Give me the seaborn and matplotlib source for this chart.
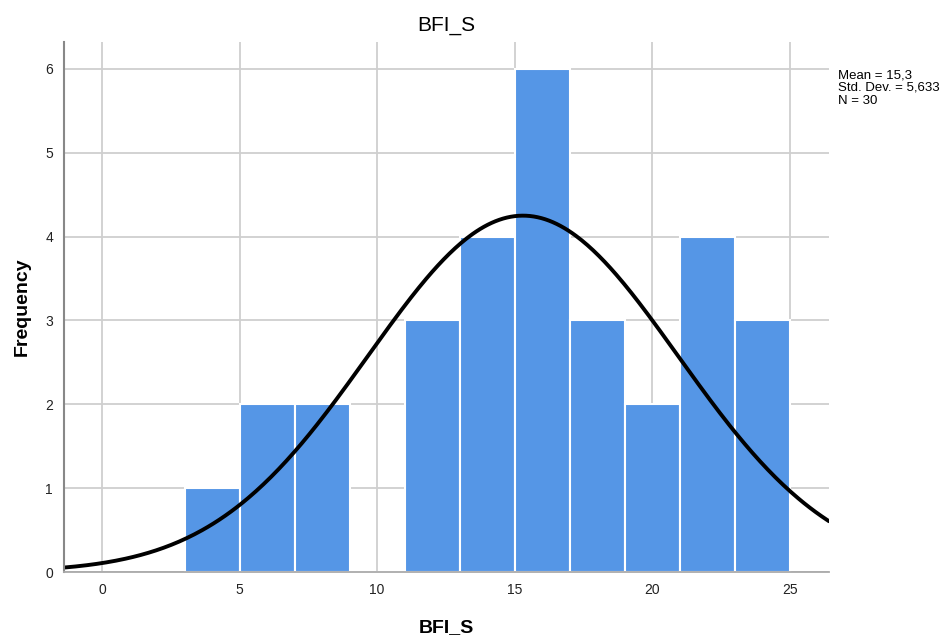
import numpy as np
import pandas as pd
import matplotlib
matplotlib.use("Agg")
import matplotlib.pyplot as plt
import seaborn as sns

# Data
bin_edges = [3, 5, 7, 9, 11, 13, 15, 17, 19, 21, 23, 25]
counts = [1, 2, 2, 0, 3, 4, 6, 3, 2, 4, 3]
mean_val = 15.3
std_val = 5.633
n_val = 30
x_ticks = [0, 5, 10, 15, 20, 25]
y_ticks = [0, 1, 2, 3, 4, 5, 6]
title = "BFI_S"
xlabel = "BFI_S"
ylabel = "Frequency"
stats_text = "Mean = 15,3\nStd. Dev. = 5,633\nN = 30"

sns.set_theme(style="white")
plt.rcParams['font.family'] = ['Liberation Sans', 'DejaVu Sans']
plt.rcParams['text.color'] = 'black'
plt.rcParams['axes.labelcolor'] = 'black'

centers = [(a + b) / 2 for a, b in zip(bin_edges[:-1], bin_edges[1:])]
df = pd.DataFrame({"x": centers, "w": counts})

fig = plt.figure(figsize=(9.52, 6.4), dpi=100)
ax = fig.add_axes([64 / 952, 1 - 572 / 640, (829 - 64) / 952, (572 - 42) / 640])

ax.set_axisbelow(True)
ax.grid(True, color="#cfcfcf", linewidth=1.3)

sns.histplot(data=df, x="x", weights="w", bins=bin_edges, ax=ax,
             color="#5596e6", alpha=1, edgecolor="white", linewidth=1.5)

xlim = (-1.38, 26.42)
bw = bin_edges[1] - bin_edges[0]
xs = np.linspace(xlim[0], xlim[1], 400)
ys = n_val * bw / (std_val * np.sqrt(2 * np.pi)) * np.exp(-0.5 * ((xs - mean_val) / std_val) ** 2)
sns.lineplot(x=xs, y=ys, ax=ax, color="black", linewidth=2.8)

ax.set_xlim(*xlim)
ax.set_ylim(0, 6.32)
ax.set_xticks(x_ticks)
ax.set_yticks(y_ticks)
ax.tick_params(axis="both", labelsize=10, colors="#222222", length=0, pad=8)

for s in ["top", "right"]:
    ax.spines[s].set_visible(False)
ax.spines["left"].set_color("#888888")
ax.spines["left"].set_linewidth(1.5)
ax.spines["bottom"].set_color("#aaaaaa")
ax.spines["bottom"].set_linewidth(1.3)

ax.set_title(title, fontsize=15, pad=8, color="black")
ax.set_xlabel(xlabel, fontsize=14, fontweight="bold", labelpad=16)
ax.set_ylabel(ylabel, fontsize=14, fontweight="bold", labelpad=10)

fig.text(838 / 952, 1 - 69 / 640, stats_text, fontsize=9.5, va="top", ha="left",
         linespacing=1.1, color="black")

fig.savefig("out.png", dpi=100)
